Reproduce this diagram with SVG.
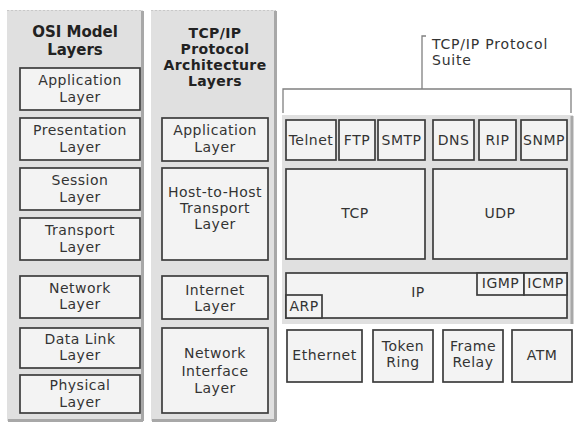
<svg xmlns="http://www.w3.org/2000/svg" width="587" height="435" viewBox="0 0 587 435">
<style>
.panel{fill:#e0e0e0;stroke:none}
.shade{fill:none;stroke:#a8a8a8;stroke-width:3}
.topdot{stroke:#c8c8c8;stroke-width:1;stroke-dasharray:2 2}
.box{fill:#f3f3f3;stroke:#3c3c3c;stroke-width:1.7}
.t{font-family:"DejaVu Sans",Verdana,sans-serif;font-size:14px;letter-spacing:0.5px;fill:#333;text-anchor:middle}
.tl{font-family:"DejaVu Sans",Verdana,sans-serif;font-size:14px;letter-spacing:0.8px;fill:#333}
.h{font-family:"DejaVu Sans",Verdana,sans-serif;font-size:15px;font-weight:bold;fill:#222;text-anchor:middle}
.h2{font-family:"DejaVu Sans",Verdana,sans-serif;font-size:14px;letter-spacing:0.4px;font-weight:bold;fill:#222;text-anchor:middle}
.br{fill:none;stroke:#808080;stroke-width:1.3}
</style>
<rect width="587" height="435" fill="#ffffff"/>

<!-- OSI panel -->
<g id="osi-panel">
<rect class="panel" x="7" y="10" width="136" height="411"/>
<path class="shade" d="M142.5 11 V421 M8 420.5 H143"/>
<line class="topdot" x1="7" y1="10.5" x2="143" y2="10.5"/>
<text class="h" x="75" y="37">OSI Model</text>
<text class="h" x="75" y="55">Layers</text>
</g>
<g id="osi-application"><rect class="box" x="20" y="68" width="120" height="42"/><text class="t" x="80" y="85">Application</text><text class="t" x="80" y="102">Layer</text></g>
<g id="osi-presentation"><rect class="box" x="20" y="118" width="120" height="42"/><text class="t" x="80" y="135">Presentation</text><text class="t" x="80" y="152">Layer</text></g>
<g id="osi-session"><rect class="box" x="20" y="168" width="120" height="42"/><text class="t" x="80" y="185">Session</text><text class="t" x="80" y="202">Layer</text></g>
<g id="osi-transport"><rect class="box" x="20" y="218" width="120" height="42"/><text class="t" x="80" y="235">Transport</text><text class="t" x="80" y="252">Layer</text></g>
<g id="osi-network"><rect class="box" x="20" y="276" width="120" height="42"/><text class="t" x="80" y="293">Network</text><text class="t" x="80" y="309">Layer</text></g>
<g id="osi-datalink"><rect class="box" x="20" y="328" width="120" height="40"/><text class="t" x="80" y="344">Data Link</text><text class="t" x="80" y="360">Layer</text></g>
<g id="osi-physical"><rect class="box" x="20" y="375" width="120" height="38"/><text class="t" x="80" y="390">Physical</text><text class="t" x="80" y="407">Layer</text></g>

<!-- TCP/IP architecture panel -->
<g id="arch-panel">
<rect class="panel" x="151" y="10" width="125" height="411"/>
<path class="shade" d="M275.5 11 V421 M152 420.5 H276"/>
<line class="topdot" x1="151" y1="10.5" x2="276" y2="10.5"/>
<text class="h2" x="215" y="38">TCP/IP</text>
<text class="h2" x="215" y="54">Protocol</text>
<text class="h2" x="215" y="70">Architecture</text>
<text class="h2" x="215" y="86">Layers</text>
</g>
<g id="arch-application"><rect class="box" x="162" y="118" width="106" height="43"/><text class="t" x="215" y="135">Application</text><text class="t" x="215" y="152">Layer</text></g>
<g id="arch-transport"><rect class="box" x="162" y="168" width="106" height="92"/><text class="t" x="215" y="197">Host-to-Host</text><text class="t" x="215" y="213">Transport</text><text class="t" x="215" y="229">Layer</text></g>
<g id="arch-internet"><rect class="box" x="162" y="276" width="106" height="43"/><text class="t" x="215" y="295">Internet</text><text class="t" x="215" y="311">Layer</text></g>
<g id="arch-netif"><rect class="box" x="162" y="328" width="106" height="85"/><text class="t" x="215" y="358">Network</text><text class="t" x="215" y="376">Interface</text><text class="t" x="215" y="393">Layer</text></g>

<!-- Suite bracket -->
<g id="connectors">
<path class="br" d="M283 113 V89 H571 V113 M422 89 V36 H426"/>
</g>
<g id="suite-label">
<text class="tl" x="432" y="49">TCP/IP Protocol</text>
<text class="tl" x="432" y="65">Suite</text>
</g>

<!-- Protocol suite panel -->
<g id="suite-panel">
<rect class="panel" x="282" y="115" width="291" height="209"/>
<path class="shade" d="M572 116 V324"/>
</g>
<g id="telnet"><rect class="box" x="286" y="120" width="50" height="40"/><text class="t" x="311" y="145">Telnet</text></g>
<g id="ftp"><rect class="box" x="339" y="120" width="36" height="40"/><text class="t" x="357" y="145">FTP</text></g>
<g id="smtp"><rect class="box" x="378" y="120" width="47" height="40"/><text class="t" x="401.5" y="145">SMTP</text></g>
<g id="dns"><rect class="box" x="433" y="120" width="41" height="40"/><text class="t" x="453.5" y="145">DNS</text></g>
<g id="rip"><rect class="box" x="479" y="120" width="37" height="40"/><text class="t" x="497.5" y="145">RIP</text></g>
<g id="snmp"><rect class="box" x="521" y="120" width="46" height="40"/><text class="t" x="544" y="145">SNMP</text></g>
<g id="tcp"><rect class="box" x="286" y="169" width="139" height="90"/><text class="t" x="355" y="218">TCP</text></g>
<g id="udp"><rect class="box" x="433" y="169" width="134" height="90"/><text class="t" x="500" y="218">UDP</text></g>
<g id="ip"><rect class="box" x="286" y="273" width="281" height="45"/><text class="t" x="418" y="297">IP</text></g>
<g id="igmp"><rect class="box" x="477" y="273" width="47" height="22"/><text class="t" x="500.5" y="288">IGMP</text></g>
<g id="icmp"><rect class="box" x="524" y="273" width="43" height="22"/><text class="t" x="545.5" y="288">ICMP</text></g>
<g id="arp"><rect class="box" x="286" y="295" width="36" height="23"/><text class="t" x="304" y="311">ARP</text></g>

<g id="ethernet"><rect class="box" x="287" y="330" width="75" height="52"/><text class="t" x="324.5" y="360">Ethernet</text></g>
<g id="tokenring"><rect class="box" x="373" y="330" width="60" height="52"/><text class="t" x="403" y="351">Token</text><text class="t" x="403" y="367">Ring</text></g>
<g id="framerelay"><rect class="box" x="443" y="330" width="60" height="52"/><text class="t" x="473" y="351">Frame</text><text class="t" x="473" y="367">Relay</text></g>
<g id="atm"><rect class="box" x="512" y="330" width="60" height="52"/><text class="t" x="542" y="360">ATM</text></g>
</svg>
